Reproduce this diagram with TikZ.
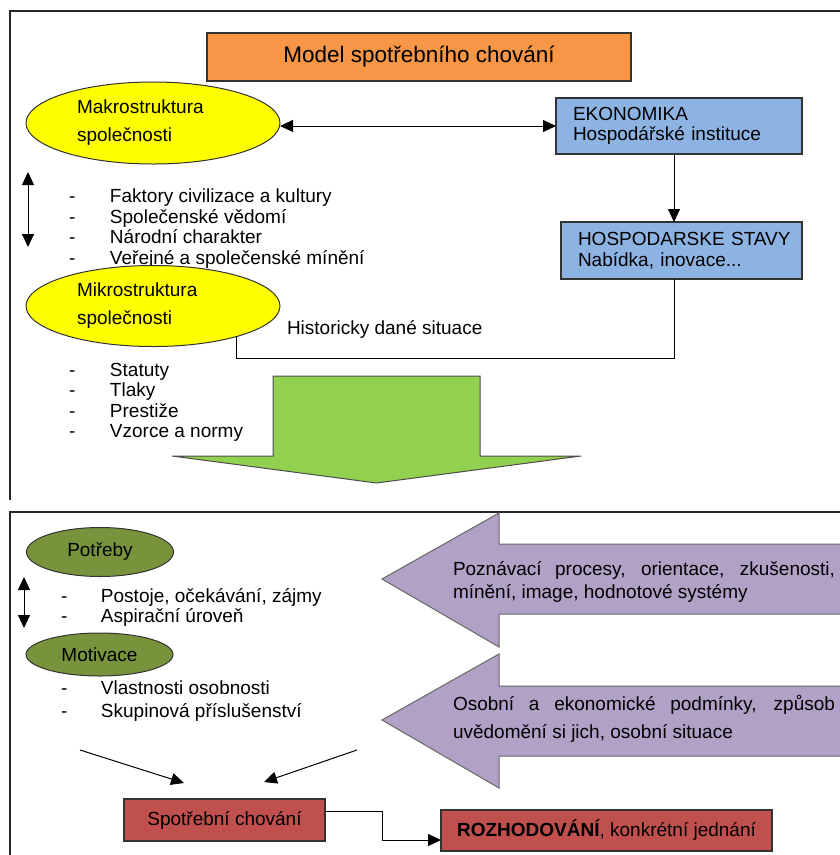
\documentclass[tikz,border=0pt]{standalone}
\usepackage{fontspec}
\setmainfont{Liberation Sans}
\usetikzlibrary{shapes.geometric,arrows.meta,calc}
\definecolor{titleorange}{HTML}{F79646}
\definecolor{ovalyellow}{HTML}{FFFF00}
\definecolor{ovalolive}{HTML}{77933C}
\definecolor{boxblue}{HTML}{8DB3E2}
\definecolor{boxred}{HTML}{C0504D}
\definecolor{arrowgreen}{HTML}{92D050}
\definecolor{arrowpurple}{HTML}{B2A1C7}
\begin{document}
\begin{tikzpicture}[y=1pt, x=1pt, yscale=-1, inner sep=0pt, outer sep=0pt,
  every node/.style={font=\fontsize{19}{20.5}\selectfont},
  frameline/.style={line width=1.2pt, draw=black!85},
  link/.style={line width=1pt, draw=black},
  arrowed/.style={-{Triangle[length=13pt,width=12pt]}},
  twoway/.style={{Triangle[length=13pt,width=12pt]}-{Triangle[length=13pt,width=12pt]}},
  yellowoval/.style={ellipse, draw=black!80, line width=1pt, fill=ovalyellow, minimum width=254pt, minimum height=82pt, text width=152pt, align=left, font=\fontsize{19}{28}\selectfont},
  oliveoval/.style={ellipse, draw=black!80, line width=1pt, fill=ovalolive, minimum width=147pt},
  bluebox/.style={rectangle, draw=black!80, line width=1.2pt, fill=boxblue, inner xsep=17pt, align=left},
  redbox/.style={rectangle, draw=black!80, line width=1.2pt, fill=boxred},
  bullets/.style={anchor=north west, align=left}]
\useasboundingbox (0,0) rectangle (840,855);
% upper frame
\path[frameline] (10,500) -- (10,11) -- (846,11);
\node[rectangle, draw=black!80, line width=1.2pt, fill=titleorange, minimum width=424pt, minimum height=48pt, font=\fontsize{22.5}{27}\selectfont] (title) at (419,57) {Model spotřebního chování};
\node[yellowoval] (makro) at (153,123) {Makrostruktura\\společnosti};
\node[bluebox, text width=212pt, minimum height=56pt] (ekonomika) at (679,126) {EKONOMIKA\\Hospodářské instituce};
\node[bluebox, text width=207pt, minimum height=57pt] (hospstavy) at (681.5,250.5) {\mbox{HOSPODARSKE STAVY}\\Nabídka, inovace...};
\draw[link, twoway] (makro.east |- ekonomika.west) -- (ekonomika.west);
\draw[link, arrowed] ([xshift=-5pt]ekonomika.south) -- ([xshift=-7.5pt]hospstavy.north);
\coordinate (makrotop) at (28,172);
\coordinate (makrobottom) at (28,247);
\draw[link, twoway] (makrotop) -- (makrobottom);
\node[bullets] (makrolist) at (69,189) {\makebox[41pt][l]{-}Faktory civilizace a kultury\\\makebox[41pt][l]{-}Společenské vědomí\\\makebox[41pt][l]{-}Národní charakter\\\makebox[41pt][l]{-}Veřejné a společenské mínění};
\node[yellowoval, minimum height=81pt] (mikro) at (153,306) {Mikrostruktura\\společnosti};
\draw[link] ([xshift=-7.5pt]hospstavy.south) -- ++(0,79) -| (mikro.-20.5);
\node[anchor=west] (historie) at (287,329) {Historicky dané situace};
\node[bullets] (mikrolist) at (69,363) {\makebox[41pt][l]{-}Statuty\\\makebox[41pt][l]{-}Tlaky\\\makebox[41pt][l]{-}Prestiže\\\makebox[41pt][l]{-}Vzorce a normy};
\path[draw=black!70, line width=1pt, fill=arrowgreen] (273,376) -- (480,376) -- (480,456) -- (581,456) -- (376.5,483) -- (172,456) -- (273,456) -- cycle;
% lower frame
\path[frameline] (10,860) -- (10,512) -- (846,512);
\path[draw=black!60, line width=1pt, fill=arrowpurple] (846,544) -- (499,544) -- (499,513) -- (382,579) -- (499,647) -- (499,614) -- (846,614) -- cycle;
\path[draw=black!60, line width=1pt, fill=arrowpurple] (846,686) -- (499,686) -- (499,654) -- (382,720) -- (499,788) -- (499,756) -- (846,756) -- cycle;
\node[bullets, font=\fontsize{19}{23}\selectfont] (poznani) at (453,562) {\makebox[382pt][s]{Poznávací procesy, orientace, zkušenosti,}\\mínění, image, hodnotové systémy};
\node[bullets, font=\fontsize{19}{28}\selectfont] (podminky) at (453,695) {\makebox[382pt][s]{Osobní a ekonomické podmínky, způsob}\\uvědomění si jich, osobní situace};
\node[oliveoval, minimum height=49pt] (potreby) at (100,552) {Potřeby};
\node[oliveoval, minimum height=43pt] (motivace) at (99.5,654.5) {Motivace};
\coordinate (potrebytop) at (24,577);
\coordinate (potrebybottom) at (24,628);
\draw[link, twoway] (potrebytop) -- (potrebybottom);
\node[bullets, font=\fontsize{19}{20}\selectfont] (potrebylist) at (61,589) {\makebox[40pt][l]{-}Postoje, očekávání, zájmy\\\makebox[40pt][l]{-}Aspirační úroveň};
\node[bullets, font=\fontsize{19}{23}\selectfont] (motivacelist) at (61,681) {\makebox[40pt][l]{-}Vlastnosti osobnosti\\\makebox[40pt][l]{-}Skupinová příslušenství};
\node[redbox, minimum width=201pt, minimum height=42pt] (spotreba) at (224.5,820) {Spotřební chování};
\node[redbox, minimum width=331pt, minimum height=41pt] (rozhodovani) at (606.5,830.5) {\textbf{ROZHODOVÁNÍ}, konkrétní jednání};
\coordinate (leftstart) at (80,750);
\coordinate (leftend) at (184,783);
\coordinate (rightstart) at (357,750);
\coordinate (rightend) at (264,782);
\draw[link, arrowed] (leftstart) -- (leftend);
\draw[link, arrowed] (rightstart) -- (rightend);
\draw[link, arrowed] ($(spotreba.east)+(0,-9)$) -- ++(57,0) |- ($(rozhodovani.west)+(0,9.5)$);
\end{tikzpicture}
\end{document}
